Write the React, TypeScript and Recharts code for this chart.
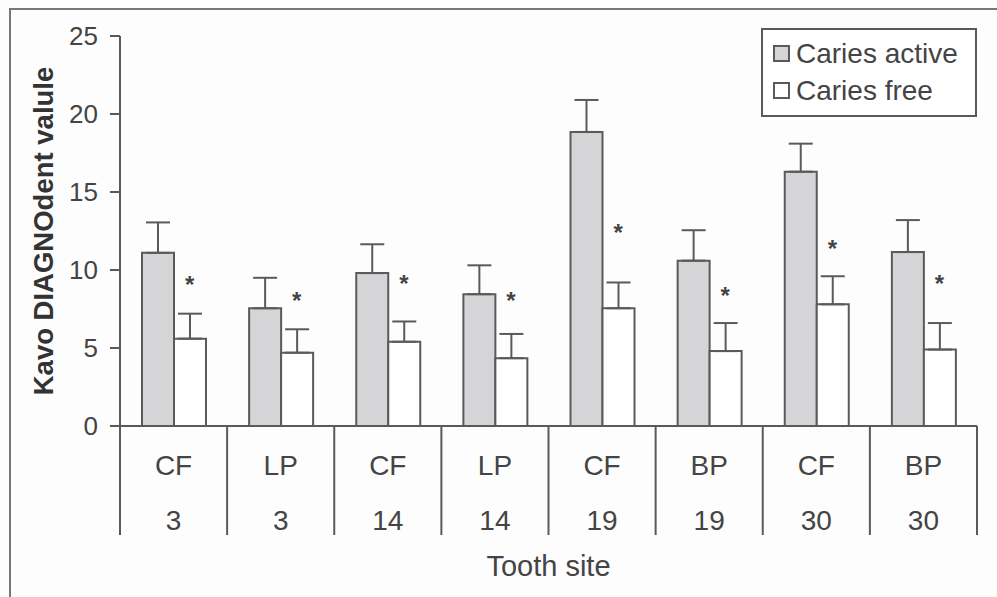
import React from 'react';
import { ComposedChart, Bar, ErrorBar, Scatter, XAxis, YAxis, Legend } from 'recharts';

const sites = ['CF', 'LP', 'CF', 'LP', 'CF', 'BP', 'CF', 'BP'];
const teeth = ['3', '3', '14', '14', '19', '19', '30', '30'];
const activeMean = [11.1, 7.55, 9.8, 8.45, 18.85, 10.6, 16.3, 11.15];
const activeErr = [1.95, 1.95, 1.85, 1.85, 2.05, 1.95, 1.8, 2.05];
const freeMean = [5.6, 4.7, 5.4, 4.35, 7.55, 4.8, 7.8, 4.9];
const freeErr = [1.6, 1.5, 1.3, 1.55, 1.65, 1.8, 1.8, 1.7];
// where the significance asterisk sits above each caries-free bar
const starLevel = [9.3, 8.3, 9.35, 8.3, 12.6, 8.6, 11.6, 9.35];
const yTicks = [0, 5, 10, 15, 20, 25];

const data = sites.map((s, i) => ({
  key: `${s}-${teeth[i]}-${i}`,
  site: s,
  tooth: teeth[i],
  active: activeMean[i],
  activeErr: [0, activeErr[i]],
  free: freeMean[i],
  freeErr: [0, freeErr[i]],
  star: starLevel[i],
}));

const FONT = '"Liberation Sans", Arial, Helvetica, sans-serif';
const INK = '#444';
const LINE = '#5a5a5a';
const GREY = '#d5d5d8';

function SiteTick(props: any) {
  const { x, y, payload, index } = props;
  const half = payload && payload.offset ? payload.offset : 53.5;
  const d = data[index];
  return (
    <g>
      <line x1={x - half} y1={y} x2={x - half} y2={y + 109} stroke={LINE} strokeWidth={2} />
      {index === data.length - 1 && (
        <line x1={x + half} y1={y} x2={x + half} y2={y + 109} stroke={LINE} strokeWidth={2} />
      )}
      <text x={x} y={y + 49} textAnchor="middle" fontSize={28} fill={INK} fontFamily={FONT}>
        {d ? d.site : ''}
      </text>
      <text x={x} y={y + 104} textAnchor="middle" fontSize={28} fill={INK} fontFamily={FONT}>
        {d ? d.tooth : ''}
      </text>
    </g>
  );
}

function Star(props: any) {
  const { cx, cy } = props;
  return (
    <text x={cx + 16} y={cy + 12} textAnchor="middle" fontSize={24} fontWeight="bold" fill={INK} fontFamily={FONT}>
      *
    </text>
  );
}

function LegendBox() {
  const item = (fill: string, label: string) => (
    <div style={{ display: 'flex', alignItems: 'center', height: 37 }}>
      <span
        style={{
          display: 'inline-block',
          width: 13,
          height: 13,
          background: fill,
          border: `2px solid ${LINE}`,
          marginRight: 6,
        }}
      />
      <span style={{ fontSize: 28, color: INK, fontFamily: FONT, lineHeight: '37px' }}>{label}</span>
    </div>
  );
  return (
    <div
      style={{
        border: `2px solid ${LINE}`,
        width: 216,
        height: 89,
        boxSizing: 'border-box',
        padding: '5px 0 0 10px',
        background: '#fff',
      }}
    >
      {item(GREY, 'Caries active')}
      {item('#fff', 'Caries free')}
    </div>
  );
}

export default function App() {
  return (
    <div style={{ position: 'absolute', left: 0, top: 0, width: 997, height: 597, overflow: 'hidden', background: '#fdfdfd' }}>
      <div
        style={{
          position: 'absolute',
          left: 9,
          top: 8,
          width: 1000,
          height: 600,
          borderTop: '2px solid #777',
          borderLeft: '2px solid #777',
        }}
      />
      <ComposedChart
        width={997}
        height={597}
        data={data}
        margin={{ top: 36, right: 20, left: 0, bottom: 61 }}
        barGap={0}
        style={{ position: 'absolute', left: 0, top: 0 }}
      >
        <XAxis
          dataKey="key"
          height={110}
          axisLine={{ stroke: LINE, strokeWidth: 2 }}
          tickLine={false}
          tickSize={0}
          tickMargin={0}
          tick={<SiteTick />}
          interval={0}
          label={(p: any) => {
            const vb = p.viewBox || { x: 120, y: 426, width: 857, height: 110 };
            return (
              <text x={vb.x + vb.width / 2} y={vb.y + vb.height + 40} textAnchor="middle" fontSize={29} fill={INK} fontFamily={FONT}>
                Tooth site
              </text>
            );
          }}
        />
        <YAxis
          domain={[0, 25]}
          ticks={yTicks}
          width={120}
          axisLine={{ stroke: LINE, strokeWidth: 2 }}
          tickLine={{ stroke: LINE, strokeWidth: 2 }}
          tickSize={10}
          tickMargin={12}
          tick={{ fontSize: 26, fill: INK, fontFamily: FONT }}
          label={(p: any) => {
            const vb = p.viewBox || { x: 0, y: 36, width: 120, height: 390 };
            const cy = vb.y + vb.height / 2;
            return (
              <text
                x={43}
                y={cy}
                transform={`rotate(-90 43 ${cy})`}
                textAnchor="middle"
                dominantBaseline="central"
                fontSize={27.5}
                fontWeight="bold"
                fill="#333"
                fontFamily={FONT}
              >
                Kavo DIAGNOdent valule
              </text>
            );
          }}
        />
        <Legend
          layout="horizontal"
          verticalAlign="middle"
          align="center"
          content={<LegendBox />}
          wrapperStyle={{ position: 'absolute', top: 28, left: 761, width: 216, height: 89 }}
        />
        <Bar dataKey="active" name="Caries active" fill={GREY} stroke={LINE} strokeWidth={2} barSize={32} isAnimationActive={false}>
          <ErrorBar dataKey="activeErr" width={12} stroke={LINE} strokeWidth={2} direction="y" />
        </Bar>
        <Bar dataKey="free" name="Caries free" fill="#fff" stroke={LINE} strokeWidth={2} barSize={32} isAnimationActive={false}>
          <ErrorBar dataKey="freeErr" width={12} stroke={LINE} strokeWidth={2} direction="y" />
        </Bar>
        <Scatter dataKey="star" shape={<Star />} legendType="none" isAnimationActive={false} />
      </ComposedChart>
    </div>
  );
}
